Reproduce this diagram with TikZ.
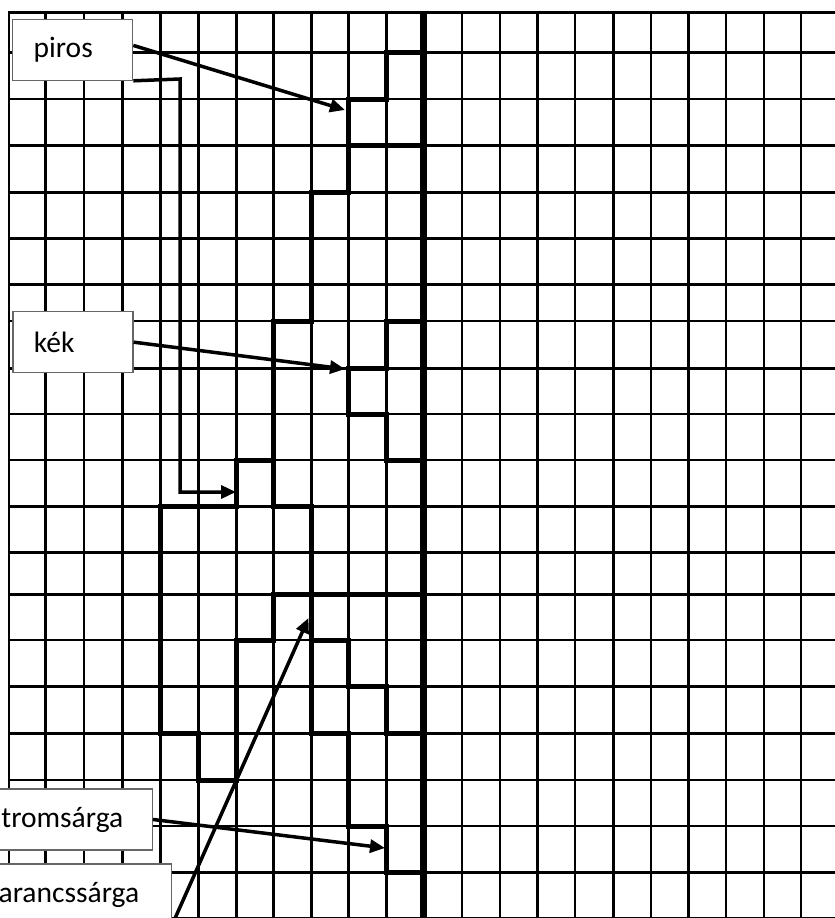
\documentclass[tikz,border=0pt]{standalone}
\usepackage{fontspec}
\setmainfont{Carlito}
\usetikzlibrary{arrows.meta}

\tikzset{
  grid line/.style={line width=2.6pt, line cap=rect},
  stair/.style={line width=5pt, line cap=rect},
  colorbox/.style={draw=black!60, fill=white, line width=1.3pt, anchor=north west,
    inner xsep=21pt, minimum height=61pt, align=left,
    font=\fontsize{29.5}{35}\selectfont},
  pointer/.style={line width=3.5pt, -{Triangle[length=15pt,width=13pt]}}
}

\begin{document}
\begin{tikzpicture}[x=1pt, y=-1pt]
\useasboundingbox (0,0) rectangle (835,918);
\clip (0,0) rectangle (835,918);
\fill[white] (0,0) rectangle (835,918);

% grid points
\foreach \gx [count=\i from 0] in {9,45.7,84,122.3,160.3,198.3,236.3,273.7,311.7,348.7,386.7,423.5,462,500,537.3,575,613.3,651,688.3,726,764,801}
  \foreach \gy [count=\j from 0] in {12.3,52.7,99,145.3,192.3,238.7,284.3,321,368.3,414,460,506.7,552.3,594.7,640,686.7,733.3,780,826,872.7,918}
    \coordinate (g\i-\j) at (\gx,\gy);

% grid
\foreach \j in {0,...,20}
  \draw[grid line] (g0-\j) -- ++(840,0);
\foreach \i in {0,...,21}
  \draw[grid line] (g\i-0) -- (g\i-20);

% staircases
\draw[stair] (g11-1) -- (g10-1) -- (g10-2) -- (g9-2) -- (g9-4) -- (g8-4) -- (g8-7) -- (g7-7) -- (g7-10) -- (g6-10) -- (g6-11) -- (g4-11) -- (g4-16) -- (g5-16) -- (g5-17) -- (g6-17) -- (g6-14) -- (g7-14) -- (g7-13) -- (g11-13);
\draw[stair] (g9-3) -- (g11-3);
\draw[stair] (g11-7) -- (g10-7) -- (g10-8) -- (g9-8) -- (g9-9) -- (g10-9) -- (g10-10) -- (g11-10);
\draw[stair] (g7-10) -- (g7-11) -- (g8-11) -- (g8-16) -- (g9-16) -- (g9-18) -- (g10-18) -- (g10-19) -- (g11-19);
\draw[stair] (g8-14) -- (g9-14) -- (g9-15) -- (g10-15) -- (g10-16) -- (g11-16);
\draw[line width=7pt] (g11-0) -- (g11-20);

% labels
\node[colorbox, text width=78pt] (piros) at (12,18.5) {piros};
\node[colorbox, text width=78pt] (kek) at (12.3,311) {kék};
\node[colorbox, text width=149pt] (citrom) at (-39.5,788.3) {citromsárga};
\node[colorbox, text width=167pt] (narancs) at (-38.5,863.3) {narancssárga};

\coordinate (pirosTop) at (345,110);
\coordinate (pirosBend) at (180,79);
\coordinate (pirosLow) at (236,492);
\coordinate (kekTip) at (345,369);
\coordinate (citromTip) at (385,848);
\coordinate (narancsTip) at (308.5,618);

\draw[pointer] (piros.4) -- (pirosTop);
\draw[pointer] (piros.south east) -- (pirosBend) |- (pirosLow);
\draw[pointer] (kek.east) -- (kekTip);
\draw[pointer] (citrom.east) -- (citromTip);
\draw[pointer] (narancs.south east) -- (narancsTip);

\end{tikzpicture}
\end{document}
